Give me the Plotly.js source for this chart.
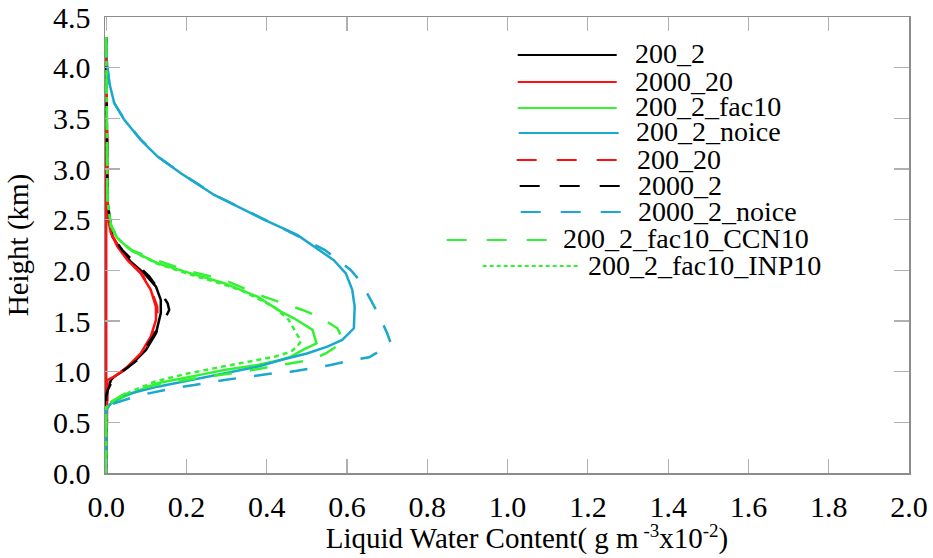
<!DOCTYPE html>
<html>
<head>
<meta charset="utf-8">
<script src="https://cdn.plot.ly/plotly-3.0.1.min.js"></script>
<style>
html,body{margin:0;padding:0;background:#fff;font-family:'Liberation Serif','Times New Roman',serif;}
#wrap{position:relative;width:933px;height:558px;}
#chart{position:absolute;left:0;top:0;width:933px;height:558px;}
#xtitle{position:absolute;left:0;width:1054px;top:521px;text-align:center;font-size:29px;line-height:34px;color:#000;white-space:nowrap;font-family:'Liberation Serif','Times New Roman',serif;}
#xtitle sup{font-size:19px;line-height:0;vertical-align:0;position:relative;top:-11px;}
</style>
</head>
<body>
<div id="wrap">
<div id="chart"></div>
<div id="xtitle">Liquid Water Content( g m<sup> -3</sup>x10<sup>-2</sup>)</div>
</div>
<script>
// ---------- DATA (height in km, liquid water content in g m^-3 x10^-2) ----------
const seriesNames = ["200_2","2000_20","200_2_fac10","200_2_noice","200_20","2000_2","2000_2_noice","200_2_fac10_CCN10","200_2_fac10_INP10"];

const h_200_2 = [0, 0.74, 0.82, 0.918, 0.951, 1.017, 1.099, 1.214, 1.38, 1.577, 1.708, 1.84, 1.97, 2.086, 2.2, 2.33, 2.53, 2.69, 4.3];
const v_200_2 = [0, 0, 0.003, 0.012, 0.02, 0.045, 0.07, 0.099, 0.124, 0.136, 0.136, 0.124, 0.095, 0.061, 0.037, 0.016, 0.008, 0.003, 0];

const h_2000_20 = [0, 0.918, 0.95, 1.049, 1.18, 1.346, 1.51, 1.64, 1.807, 1.97, 2.1, 2.234, 2.366, 2.53, 4.3];
const v_2000_20 = [0, 0.003, 0.02, 0.053, 0.086, 0.111, 0.124, 0.124, 0.111, 0.086, 0.053, 0.028, 0.012, 0.003, 0];

const h_200_2_fac10 = [0, 0.64, 0.688, 0.753, 0.82, 0.885, 0.951, 1.017, 1.066, 1.115, 1.148, 1.214, 1.28, 1.412, 1.527, 1.593, 1.74, 1.873, 1.97, 2.07, 2.2, 2.317, 2.43, 2.69, 4.3];
const v_200_2_fac10 = [0, 0, 0.012, 0.045, 0.085, 0.128, 0.211, 0.294, 0.377, 0.435, 0.46, 0.49, 0.524, 0.514, 0.468, 0.435, 0.377, 0.294, 0.211, 0.128, 0.061, 0.028, 0.012, 0.003, 0];

const h_200_2_noice = [0, 0.62, 0.69, 0.77, 0.852, 0.951, 1.049, 1.115, 1.18, 1.247, 1.313, 1.428, 1.64, 1.807, 1.97, 2.1, 2.2, 2.35, 2.5, 2.744, 2.958, 3.122, 3.287, 3.485, 3.65, 3.847, 4.0, 4.15, 4.3];
const v_200_2_noice = [0, 0, 0.012, 0.045, 0.128, 0.252, 0.377, 0.435, 0.50, 0.551, 0.588, 0.617, 0.619, 0.613, 0.597, 0.567, 0.53, 0.476, 0.393, 0.269, 0.186, 0.128, 0.086, 0.045, 0.02, 0.008, 0.003, 0, 0];

const h_200_20 = [0, 0.9, 0.95, 1.05, 1.18, 1.35, 1.51, 1.64, 1.8, 1.97, 2.1, 2.234, 2.366, 2.53, 4.3];
const v_200_20 = [0, 0.003, 0.022, 0.057, 0.09, 0.116, 0.128, 0.127, 0.113, 0.088, 0.055, 0.03, 0.013, 0.004, 0];

const h_2000_2 = [0, 0.75, 0.82, 0.89, 0.95, 1.017, 1.115, 1.313, 1.444, 1.543, 1.609, 1.675, 1.807, 1.94, 2.05, 2.2, 2.33, 2.53, 2.69, 4.3];
const v_2000_2 = [0, 0, 0.004, 0.012, 0.02, 0.045, 0.078, 0.111, 0.132, 0.149, 0.157, 0.153, 0.132, 0.107, 0.078, 0.04, 0.017, 0.008, 0.003, 0];

const h_2000_2_noice = [0, 0.62, 0.688, 0.77, 0.836, 0.918, 0.984, 1.0, 1.033, 1.066, 1.109, 1.142, 1.247, 1.28, 1.379, 1.56, 1.708, 1.889, 2.004, 2.2, 2.4, 2.5, 2.744, 2.958, 3.122, 3.287, 3.485, 3.65, 3.847, 4.0, 4.15, 4.3];
const v_2000_2_noice = [0, 0, 0.02, 0.086, 0.169, 0.294, 0.418, 0.46, 0.51, 0.559, 0.609, 0.655, 0.70, 0.709, 0.70, 0.679, 0.659, 0.634, 0.609, 0.545, 0.447, 0.395, 0.27, 0.187, 0.129, 0.087, 0.046, 0.02, 0.008, 0.003, 0, 0];

const h_CCN10 = [0, 0.64, 0.7, 0.78, 0.85, 0.9, 0.95, 1.0, 1.066, 1.115, 1.18, 1.296, 1.428, 1.543, 1.609, 1.74, 1.905, 2.0, 2.1, 2.2, 2.32, 2.45, 2.7, 4.3];
const v_CCN10 = [0, 0, 0.012, 0.045, 0.1, 0.165, 0.25, 0.34, 0.435, 0.51, 0.547, 0.592, 0.576, 0.53, 0.489, 0.393, 0.294, 0.2, 0.125, 0.063, 0.028, 0.012, 0.003, 0];

const h_INP10 = [0, 0.65, 0.72, 0.8, 0.9, 0.98, 1.05, 1.115, 1.148, 1.197, 1.247, 1.3, 1.41, 1.51, 1.64, 1.806, 1.87, 1.97, 2.07, 2.2, 2.32, 2.43, 2.69, 4.3];
const v_INP10 = [0, 0, 0.02, 0.06, 0.12, 0.2, 0.29, 0.377, 0.42, 0.46, 0.476, 0.485, 0.47, 0.455, 0.418, 0.335, 0.285, 0.2, 0.125, 0.06, 0.028, 0.012, 0.003, 0];

// red line along x = 0 over the whole profile
const h_zeroRed = [0, 4.3];
const v_zeroRed = [0, 0];

const xTickVals = [0, 0.2, 0.4, 0.6, 0.8, 1.0, 1.2, 1.4, 1.6, 1.8, 2.0];
const yTickVals = [0, 0.5, 1.0, 1.5, 2.0, 2.5, 3.0, 3.5, 4.0, 4.5];

// ---------- STYLES ----------
const BLACK = "#000000", RED = "#ff1111", GREEN = "#33f233", CYAN = "#1aa8cc";
const DASH = "18px,18px", DOT = "5px,4px";
const styles = [
  {color: BLACK, dash: "solid"},
  {color: RED,   dash: "solid"},
  {color: GREEN, dash: "solid"},
  {color: CYAN,  dash: "solid"},
  {color: RED,   dash: DASH},
  {color: BLACK, dash: DASH},
  {color: CYAN,  dash: DASH},
  {color: GREEN, dash: DASH},
  {color: GREEN, dash: DOT}
];
const allH = [h_200_2, h_2000_20, h_200_2_fac10, h_200_2_noice, h_200_20, h_2000_2, h_2000_2_noice, h_CCN10, h_INP10];
const allV = [v_200_2, v_2000_20, v_200_2_fac10, v_200_2_noice, v_200_20, v_2000_2, v_2000_2_noice, v_CCN10, v_INP10];

const FONT = "serif";

const traces = [{
  x: v_zeroRed, y: h_zeroRed, mode: "lines", showlegend: false, hoverinfo: "skip",
  line: {color: RED, width: 2.5}
}];
seriesNames.forEach((n, i) => {
  traces.push({
    x: allV[i], y: allH[i], name: n, mode: "lines", showlegend: false,
    line: {color: styles[i].color, dash: styles[i].dash, width: 2.5}
  });
});

// ---------- custom legend (pixel layout) ----------
const plotL = 105.3, plotR = 909.3, plotT = 17, plotB = 473;
const px2x = p => (p - plotL) / (plotR - plotL);
const px2y = p => (plotB - p) / (plotB - plotT);
const legLayout = [
  {x0: 518, x1: 617, y: 55,  tx: 633},
  {x0: 518, x1: 617, y: 82,  tx: 633},
  {x0: 518, x1: 617, y: 108, tx: 633},
  {x0: 519, x1: 619, y: 133, tx: 634},
  {x0: 517, x1: 617, y: 160, tx: 635},
  {x0: 520, x1: 620, y: 186, tx: 636},
  {x0: 521, x1: 621, y: 212, tx: 636},
  {x0: 447, x1: 547, y: 240, tx: 561},
  {x0: 483, x1: 578, y: 266, tx: 586}
];
const shapes = [], annotations = [];
legLayout.forEach((L, i) => {
  shapes.push({type: "line", xref: "paper", yref: "paper",
    x0: px2x(L.x0), x1: px2x(L.x1), y0: px2y(L.y), y1: px2y(L.y),
    line: {color: styles[i].color, width: 2.2, dash: styles[i].dash === DOT ? "4px,3px" : (styles[i].dash === "solid" ? "solid" : "20px,20px")}});
  annotations.push({xref: "paper", yref: "paper", x: px2x(L.tx), y: px2y(L.y - 1),
    xanchor: "left", yanchor: "middle", showarrow: false, text: seriesNames[i],
    font: {family: FONT, size: 28, color: "#000"}});
});

const layout = {
  width: 933, height: 558,
  margin: {l: 105.3, r: 933 - 909.3, t: 17, b: 85},
  paper_bgcolor: "rgba(0,0,0,0)", plot_bgcolor: "#fff",
  showlegend: false,
  font: {family: FONT, size: 29, color: "#000"},
  xaxis: {
    range: [-0.003, 2.0], tickvals: xTickVals, tickformat: ".1f",
    showgrid: false, zeroline: false,
    showline: true, linecolor: "#8c8c8c", linewidth: 1.5, mirror: "ticks",
    ticks: "inside", ticklen: 14, tickcolor: "#b0b0b0", tickwidth: 1.2,
    tickfont: {family: FONT, size: 30, color: "#000"}, ticklabelstandoff: 6
  },
  yaxis: {
    range: [0, 4.5], tickvals: yTickVals, tickformat: ".1f",
    showgrid: false, zeroline: false,
    showline: true, linecolor: "#8c8c8c", linewidth: 1.5, mirror: "ticks",
    ticks: "inside", ticklen: 15, tickcolor: "#b0b0b0", tickwidth: 1.2,
    tickfont: {family: FONT, size: 30, color: "#000"}, ticklabelstandoff: 7,
    title: {text: "Height (km)", font: {family: FONT, size: 29, color: "#000"}, standoff: 16}
  },
  shapes: shapes,
  annotations: annotations
};

Plotly.newPlot("chart", traces, layout, {displayModeBar: false, staticPlot: true});
</script>
</body>
</html>
